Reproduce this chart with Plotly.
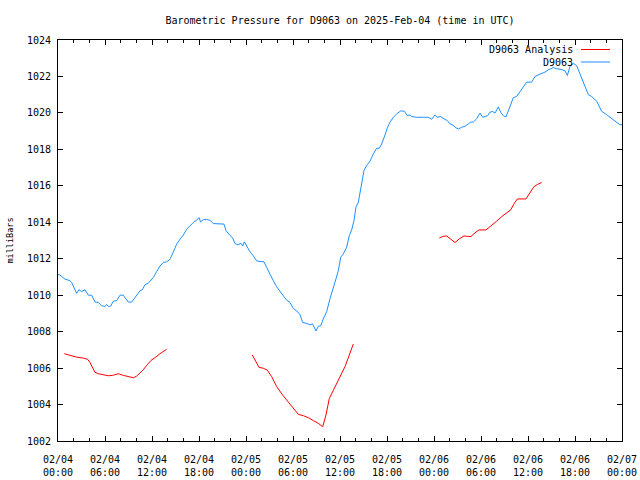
import pandas as pd
import plotly.graph_objects as go

# ---------------- data ----------------
start_time = "2025-02-04 00:00"

# D9063 observations: hours since start, pressure (mb)
obs_hours = [0.0, 0.26, 0.89, 1.53, 1.74, 2.38, 2.68, 3.02, 3.45, 3.87, 4.3, 4.72, 5.15, 5.57, 6.0,
             6.21, 6.43, 6.72, 7.06, 7.49, 7.92, 8.34, 8.55, 8.98, 9.4, 9.83, 10.13, 10.47, 10.76,
             11.1, 11.53, 12.17, 12.6, 13.02, 13.45, 13.87, 14.3, 14.72, 15.15, 15.57, 16.0, 16.43,
             16.85, 17.28, 17.7, 18.0, 18.2, 18.55, 18.98, 19.4, 19.83, 20.47, 21.19, 21.45, 21.96,
             22.3, 22.6, 23.0, 23.35, 23.57, 23.79, 24.08, 24.51, 24.94, 25.36, 25.79, 26.3, 26.64,
             27.06, 27.49, 27.92, 28.34, 28.77, 29.19, 29.62, 30.04, 30.47, 30.9, 31.24, 31.75,
             32.17, 32.51, 32.94, 33.24, 33.54, 33.87, 34.3, 34.72, 35.15, 35.49, 35.79, 36.09,
             36.43, 36.85, 37.19, 37.49, 37.79, 38.04, 38.34, 38.64, 38.9, 39.06, 39.4, 39.83,
             40.26, 40.68, 41.02, 41.32, 41.75, 42.04, 42.38, 42.81, 43.24, 43.75, 44.22, 44.6,
             44.94, 45.15, 45.79, 46.43, 46.72, 47.28, 47.7, 48.13, 48.43, 48.85, 49.28, 49.7,
             50.04, 50.47, 50.81, 51.11, 51.53, 51.96, 52.38, 52.68, 53.02, 53.45, 53.87, 54.21,
             54.51, 54.85, 55.15, 55.49, 55.79, 56.21, 56.51, 56.85, 57.19, 57.49, 57.79, 58.13,
             58.55, 58.89, 59.2, 59.83, 60.47, 60.9, 61.53, 62.17, 62.6, 63.23, 63.66, 64.09,
             64.73, 65.02, 65.36, 65.79, 66.21, 66.64, 67.28, 67.7, 68.13, 68.77, 69.4, 70.04,
             70.68, 71.32, 71.7, 72.0]
obs_mb = [1011.15, 1011.1, 1010.88, 1010.8, 1010.7, 1010.1, 1010.3, 1010.2, 1010.3, 1010.0, 1010.0,
          1009.63, 1009.6, 1009.42, 1009.38, 1009.49, 1009.38, 1009.4, 1009.67, 1009.7, 1010.0,
          1010.0, 1009.87, 1009.62, 1009.62, 1009.87, 1010.0, 1010.24, 1010.3, 1010.57, 1010.66,
          1010.97, 1011.3, 1011.6, 1011.8, 1011.83, 1011.97, 1012.34, 1012.8, 1013.07, 1013.3,
          1013.62, 1013.8, 1013.99, 1014.11, 1014.26, 1014.02, 1014.15, 1014.15, 1014.11, 1013.93,
          1013.9, 1013.9, 1013.53, 1013.25, 1013.13, 1012.83, 1012.76, 1012.85, 1012.7, 1012.93,
          1012.7, 1012.38, 1012.16, 1011.88, 1011.85, 1011.83, 1011.52, 1011.12, 1010.79, 1010.46,
          1010.18, 1009.96, 1009.73, 1009.6, 1009.27, 1009.14, 1008.93, 1008.5, 1008.45, 1008.37,
          1008.42, 1008.03, 1008.3, 1008.32, 1008.7, 1009.1, 1009.8, 1010.35, 1010.9, 1011.35,
          1012.08, 1012.27, 1012.63, 1013.27, 1013.58, 1014.1, 1014.83, 1015.1, 1015.74, 1016.47,
          1016.84, 1017.11, 1017.35, 1017.75, 1018.06, 1018.06, 1018.3, 1018.79, 1019.18, 1019.49,
          1019.76, 1019.95, 1020.11, 1020.09, 1019.85, 1019.89, 1019.8, 1019.76, 1019.76, 1019.8,
          1019.76, 1019.65, 1019.89, 1019.76, 1019.8, 1019.67, 1019.58, 1019.4, 1019.31, 1019.18,
          1019.12, 1019.21, 1019.27, 1019.4, 1019.49, 1019.5, 1019.68, 1019.99, 1019.76, 1019.8,
          1019.85, 1020.04, 1020.08, 1019.99, 1020.33, 1020.04, 1019.85, 1019.78, 1020.12, 1020.4,
          1020.84, 1020.9, 1021.13, 1021.27, 1021.69, 1021.69, 1022.0, 1022.13, 1022.24, 1022.36,
          1022.49, 1022.42, 1022.4, 1022.31, 1022.05, 1022.55, 1022.72, 1022.6, 1022.09, 1021.45,
          1021.0, 1020.9, 1020.64, 1020.09, 1019.9, 1019.69, 1019.45, 1019.36, 1019.35]

# D9063 Analysis: three segments
ana1_hours = [0.8, 1.53, 2.38, 3.23, 3.79, 4.09, 4.43, 4.72, 5.15, 5.79, 6.43, 6.98, 7.7, 8.34,
              8.98, 9.62, 10.04, 10.47, 10.89, 11.32, 11.87, 12.38, 13.02, 13.87]
ana1_mb = [1006.79, 1006.7, 1006.6, 1006.55, 1006.48, 1006.3, 1006.02, 1005.77, 1005.69, 1005.64,
           1005.58, 1005.6, 1005.69, 1005.6, 1005.55, 1005.47, 1005.56, 1005.73, 1005.91, 1006.15,
           1006.42, 1006.57, 1006.79, 1007.03]
ana2_hours = [24.8, 25.15, 25.66, 26.21, 26.72, 27.28, 27.92, 28.68, 29.4, 30.04, 30.68, 31.32,
              31.96, 32.6, 33.23, 33.79, 34.21, 34.64, 35.36, 36.0, 36.64, 37.19, 37.7]
ana2_mb = [1006.72, 1006.44, 1006.04, 1005.99, 1005.89, 1005.53, 1004.98, 1004.52, 1004.16, 1003.79,
           1003.46, 1003.39, 1003.28, 1003.12, 1002.97, 1002.78, 1003.43, 1004.34, 1004.98, 1005.53,
           1006.08, 1006.72, 1007.32]
ana3_hours = [48.68, 49.11, 49.62, 50.13, 50.68, 51.23, 51.83, 52.38, 52.72, 53.23, 53.74, 54.64,
              55.36, 56.0, 56.64, 57.28, 57.79, 58.21, 58.64, 59.74, 60.26, 60.77, 61.19, 61.74]
ana3_mb = [1013.14, 1013.22, 1013.25, 1013.05, 1012.89, 1013.09, 1013.25, 1013.22, 1013.22, 1013.42,
           1013.58, 1013.58, 1013.82, 1014.06, 1014.31, 1014.53, 1014.68, 1015.01, 1015.28, 1015.28,
           1015.59, 1015.96, 1016.07, 1016.18]

tick_dates = ["02/04", "02/04", "02/04", "02/04", "02/05", "02/05", "02/05", "02/05",
              "02/06", "02/06", "02/06", "02/06", "02/07"]
tick_times = ["00:00", "06:00", "12:00", "18:00", "00:00", "06:00", "12:00", "18:00",
              "00:00", "06:00", "12:00", "18:00", "00:00"]
tick_hours = [0, 6, 12, 18, 24, 30, 36, 42, 48, 54, 60, 66, 72]

title_text = "Barometric Pressure for D9063 on 2025-Feb-04 (time in UTC)"
y_title = "milliBars"
name_ana = "D9063 Analysis"
name_obs = "D9063"
color_ana = "#ff0000"
color_obs = "#1e90ff"

# ---------------- build ----------------
base = pd.Timestamp(start_time)


def times(hours):
    return [None if h is None else base + pd.Timedelta(hours=h) for h in hours]


ana_hours = ana1_hours + [None] + ana2_hours + [None] + ana3_hours
ana_mb = ana1_mb + [None] + ana2_mb + [None] + ana3_mb

font_family = "DejaVu Sans Mono"

fig = go.Figure()
fig.add_trace(go.Scatter(x=times(ana_hours), y=ana_mb, mode="lines", name=name_ana,
                         line=dict(color=color_ana, width=1), connectgaps=False))
fig.add_trace(go.Scatter(x=times(obs_hours), y=obs_mb, mode="lines", name=name_obs,
                         line=dict(color=color_obs, width=1)))

fig.update_layout(
    width=640, height=480,
    margin=dict(l=58, r=18, t=40, b=39, autoexpand=False),
    paper_bgcolor="white", plot_bgcolor="white",
    showlegend=False,
    font=dict(family=font_family, size=10, color="black"),
    title=dict(text=title_text, x=340 / 640, xanchor="center", y=1 - 20 / 480, yanchor="middle",
               xref="container", yref="container", automargin=False,
               font=dict(family=font_family, size=10, color="black")),
)

fig.update_xaxes(
    range=[base, base + pd.Timedelta(hours=72)],
    tickvals=times(tick_hours),
    ticktext=[d + "<br>" + t for d, t in zip(tick_dates, tick_times)],
    ticks="inside", ticklen=5, tickcolor="black", tickwidth=1,
    minor=dict(dtick=2 * 3600 * 1000, tick0=base, ticks="inside", ticklen=3,
               tickcolor="black", tickwidth=1),
    showline=True, linecolor="black", linewidth=1, mirror="ticks",
    showgrid=False, zeroline=False, automargin=False,
    ticklabelstandoff=9,
)
fig.update_yaxes(
    range=[1002, 1024], dtick=2, tick0=1002,
    ticks="inside", ticklen=5, tickcolor="black", tickwidth=1,
    showline=True, linecolor="black", linewidth=1, mirror="ticks",
    showgrid=False, zeroline=False, automargin=False,
    title=dict(text=y_title, standoff=11, font=dict(family=font_family, size=8.5)),
    ticklabelstandoff=4,
)

# gnuplot-style legend: text right-aligned, sample line on its right
px_x = lambda px: (px - 58) / 564
px_y = lambda py: (441 - py) / 401
for label, color, ypx in [(name_ana, color_ana, 49.5), (name_obs, color_obs, 62)]:
    fig.add_annotation(text=label, xref="paper", yref="paper", x=px_x(575), y=px_y(ypx),
                       xanchor="right", yanchor="middle", showarrow=False,
                       font=dict(family=font_family, size=10, color="black"))
    fig.add_shape(type="line", xref="paper", yref="paper", x0=px_x(581), x1=px_x(610),
                  y0=px_y(ypx), y1=px_y(ypx), line=dict(color=color, width=1))

fig.write_html("out.html", config={"displayModeBar": False},
               post_script="document.body.style.margin='0';")
